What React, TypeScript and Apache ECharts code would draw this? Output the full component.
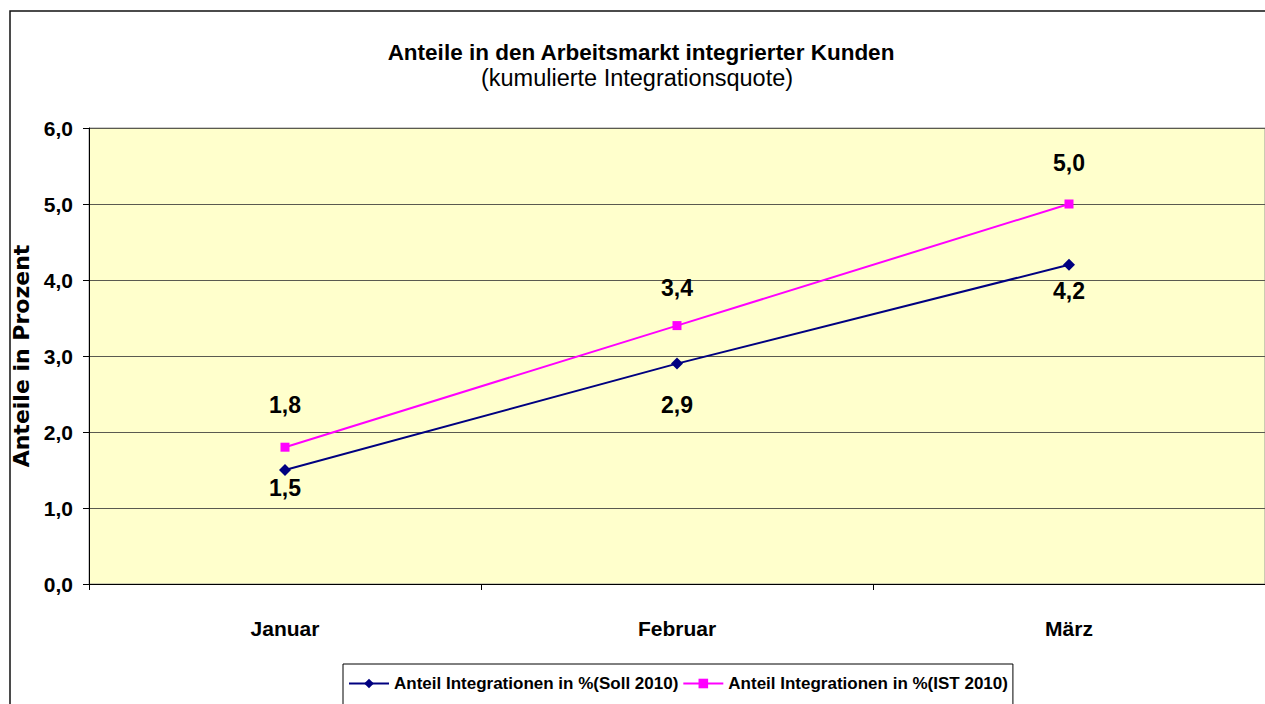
import React, { useEffect, useRef } from "react";
import * as echarts from "echarts";

const categories = ["Januar", "Februar", "März"];
const sollValues = [1.5, 2.9, 4.2];
const istValues = [1.8, 3.4, 5.0];
const seriesNames = [
  "Anteil Integrationen in %(Soll 2010)",
  "Anteil Integrationen in %(IST 2010)",
];
const titleText = "Anteile in den Arbeitsmarkt integrierter Kunden";
const subtitleText = "(kumulierte Integrationsquote)";
const yAxisName = "Anteile in Prozent";

// label placement (style, not data)
const sollLabelDist = [0, 24, 9];
const istLabelDist = [26, 22, 25];

const FONT = "'Liberation Sans', Arial, sans-serif";

const fmt = (v: number) => v.toFixed(1).replace(".", ",");

export default function App() {
  const ref = useRef<HTMLDivElement>(null);
  useEffect(() => {
    if (!ref.current) return;
    const chart = echarts.init(ref.current, undefined, { renderer: "svg" });
    const labelStyle = {
      show: true,
      fontFamily: FONT,
      fontSize: 23,
      fontWeight: "bold" as const,
      color: "#000",
      formatter: (p: any) => fmt(p.value),
    };
    chart.setOption({
      animation: false,
      backgroundColor: "#fff",
      graphic: [
        {
          type: "rect",
          silent: true,
          z: -10,
          shape: { x: 10, y: 11, width: 1400, height: 900 },
          style: { fill: "none", stroke: "#111", lineWidth: 1.5 },
        },
        {
          type: "text",
          x: 641,
          y: 52.5,
          style: {
            text: titleText,
            align: "center",
            verticalAlign: "middle",
            textAlign: "center",
            textVerticalAlign: "middle",
            fontFamily: FONT,
            fontSize: 22.5,
            fontWeight: "bold",
            fill: "#000",
          },
        },
        {
          type: "text",
          x: 637,
          y: 78,
          style: {
            text: subtitleText,
            align: "center",
            verticalAlign: "middle",
            textAlign: "center",
            textVerticalAlign: "middle",
            fontFamily: FONT,
            fontSize: 23.5,
            fontWeight: "normal",
            fill: "#000",
          },
        },
      ],
      legend: {
        left: 343,
        top: 664,
        itemGap: 4,
        itemWidth: 40,
        itemHeight: 12,
        padding: [11, 5, 30, 5],
        borderColor: "#000",
        borderWidth: 1,
        backgroundColor: "#fff",
        lineStyle: { width: 2 },
        textStyle: {
          fontFamily: FONT,
          fontSize: 17,
          fontWeight: "bold",
          color: "#000",
        },
        data: seriesNames,
      },
      grid: {
        left: 89,
        top: 128,
        width: 1176,
        height: 456,
        show: true,
        backgroundColor: "#FFFFCC",
        borderColor: "#999",
        borderWidth: 1,
      },
      xAxis: {
        type: "category",
        data: categories,
        boundaryGap: true,
        axisLine: { show: true, lineStyle: { color: "#000", width: 1 } },
        axisTick: { show: true, length: 6, lineStyle: { color: "#000" } },
        axisLabel: {
          margin: 34,
          fontFamily: FONT,
          fontSize: 21,
          fontWeight: "bold",
          color: "#000",
        },
        splitLine: { show: false },
      },
      yAxis: {
        type: "value",
        min: 0,
        max: 6,
        interval: 1,
        name: yAxisName,
        nameLocation: "middle",
        nameGap: 36,
        nameTextStyle: {
          fontFamily: "'DejaVu Sans', sans-serif",
          fontSize: 22,
          fontWeight: "bold",
          color: "#000",
        },
        axisLine: { show: true, lineStyle: { color: "#000", width: 1 } },
        axisTick: { show: true, length: 6, lineStyle: { color: "#000" } },
        axisLabel: {
          margin: 16,
          fontFamily: FONT,
          fontSize: 21,
          fontWeight: "bold",
          color: "#000",
          formatter: (v: number) => fmt(v),
        },
        splitLine: { show: true, lineStyle: { color: "#5a5a50", width: 1 } },
      },
      series: [
        {
          name: seriesNames[0],
          type: "line",
          data: sollValues.map((v, i) => ({
            value: v,
            label: { distance: sollLabelDist[i] },
          })),
          symbol: "diamond",
          symbolSize: 12,
          itemStyle: { color: "#000080" },
          lineStyle: { color: "#000080", width: 2 },
          label: { ...labelStyle, position: "bottom" },
        },
        {
          name: seriesNames[1],
          type: "line",
          data: istValues.map((v, i) => ({
            value: v,
            label: { distance: istLabelDist[i] },
          })),
          symbol: "rect",
          symbolSize: 9,
          itemStyle: { color: "#FF00FF" },
          lineStyle: { color: "#FF00FF", width: 2 },
          label: { ...labelStyle, position: "top" },
        },
      ],
    });
    return () => chart.dispose();
  }, []);
  return (
    <div
      ref={ref}
      style={{ position: "absolute", left: 0, top: 0, width: 1265, height: 704 }}
    />
  );
}
